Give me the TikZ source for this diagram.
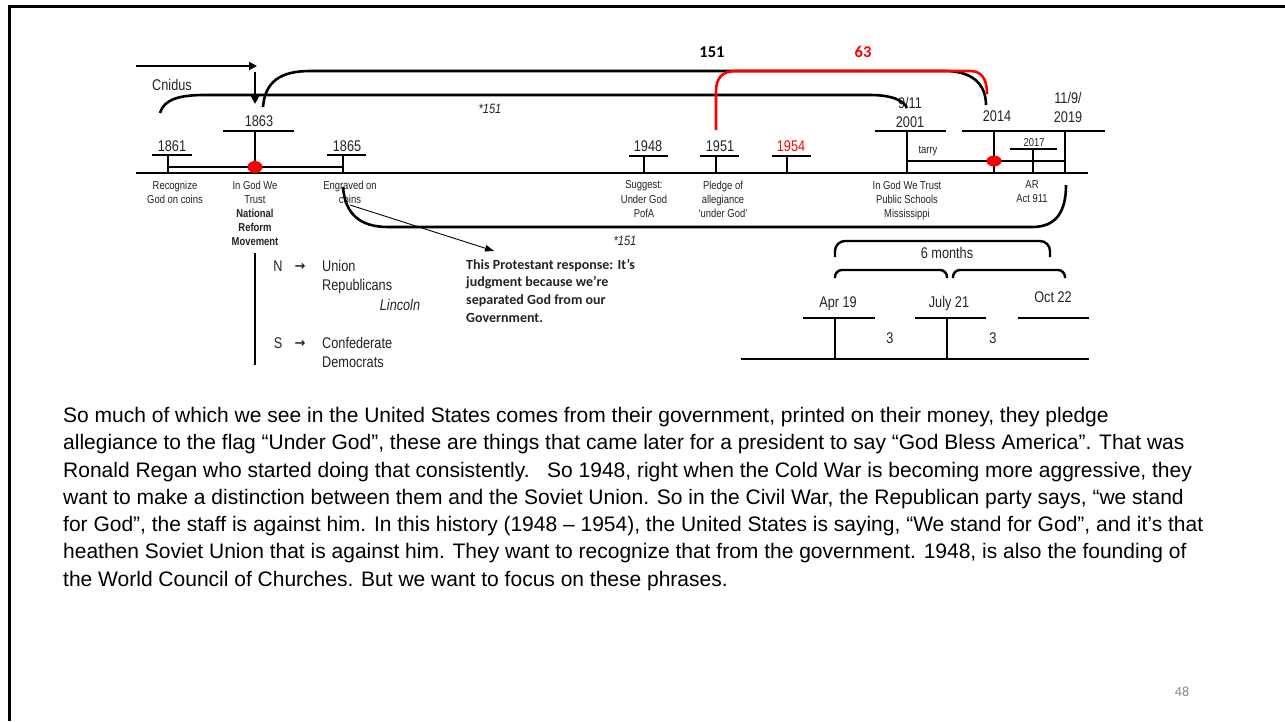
\documentclass[tikz,border=0pt]{standalone}
\usepackage{fontspec}
\setmainfont{Liberation Sans}[FakeStretch=0.82]
\newfontfamily\parafont{Liberation Sans}
\newfontfamily\calfont{Carlito}
\newfontfamily\djvfont{DejaVu Sans}
\usetikzlibrary{arrows.meta}
\definecolor{redc}{RGB}{255,0,0}
\definecolor{txt}{RGB}{35,35,35}
\definecolor{pgnum}{RGB}{137,137,137}
\newcommand{\fyr}{\fontsize{15.5}{17}\selectfont}
\newcommand{\fsm}{\fontsize{11.5}{14.2}\selectfont}
\newcommand{\fmid}{\fontsize{15.5}{19}\selectfont}
\newcommand{\fpara}{\parafont\fontsize{21}{27.3}\selectfont}
\newcommand{\yeartick}[5]{%
  \coordinate (#1top) at (#2,#3);
  \coordinate (#1bot) at (#2,173);
  \coordinate (#1l) at (#2-#4,#3);
  \coordinate (#1r) at (#2+#5,#3);
  \draw[tl] (#1top) -- (#1bot);
  \draw[tl] (#1l) -- (#1r);}
\tikzset{
  tl/.style={line width=2.6pt},
  curv/.style={line width=2.6pt},
  redcurv/.style={line width=2.6pt, draw=redc},
  thinarrow/.style={line width=0.9pt,-{Triangle[length=9pt,width=6.5pt]}},
  thickarrow/.style={line width=2.6pt,-{Triangle[length=8pt,width=8pt]}},
  yr/.style={font=\fyr, text=txt, inner sep=0pt, text height=11pt, text depth=0pt},
  smyr/.style={font=\fsm, text=txt, inner sep=0pt, text height=8.3pt, text depth=0pt},
  sm/.style={font=\fsm, text=txt, inner sep=0pt, align=center, anchor=north},
  mid/.style={font=\fmid, text=txt, inner sep=0pt, text height=11pt, text depth=0pt},
  boldc/.style={font=\calfont\bfseries\fontsize{16.5}{18}\selectfont, inner sep=0pt},
  protc/.style={font=\calfont\bfseries\fontsize{14}{17.6}\selectfont, inner sep=0pt, align=left, anchor=north west, text=txt},
  arrowch/.style={font=\djvfont\bfseries\fontsize{13}{14}\selectfont, text=txt, inner sep=0pt},
  para/.style={font=\fpara, text=black, inner sep=0pt, align=left, anchor=north west},
  reddot/.style={fill=redc, draw=none}
}
\begin{document}
\begin{tikzpicture}[x=1pt,y=-1pt]
\useasboundingbox (0,0) rectangle (1285,721);
% frame
\coordinate (frBL) at (9.5,721);
\coordinate (frTL) at (9.5,6);
\coordinate (frTR) at (1285,6);
\draw[line width=3pt] (frBL) -- (frTL) -- (frTR);

% main timeline
\coordinate (mainL) at (136,173);
\coordinate (mainR) at (1088,173);
\draw[tl] (mainL) -- (mainR);

% ticks
\yeartick{y1861}{168}{155}{16}{24}
\yeartick{y1863}{255}{131}{32}{39}
\yeartick{y1865}{343}{155}{16}{23}
\yeartick{y1948}{644}{156}{15}{24}
\yeartick{y1951}{716}{156}{16}{23}
\yeartick{y1954}{787}{156}{15}{24}
\yeartick{y2001}{907}{131}{32}{39}
\yeartick{y2017}{1033}{149}{23}{24}
\coordinate (y2014top) at (994,131);
\coordinate (y2014bot) at (994,173);
\coordinate (y2019top) at (1065,131);
\coordinate (y2019bot) at (1065,173);
\coordinate (barRL) at (962,131);
\coordinate (barRR) at (1105,131);
\draw[tl] (barRL) -- (barRR);
\draw[tl] (y2014top) -- (y2014bot);
\draw[tl] (y2019top) -- (y2019bot);

% inner lines and red dots
\coordinate (in1a) at (168,167);
\coordinate (in1b) at (343,167);
\draw[tl] (in1a) -- (in1b);
\coordinate (in2a) at (907,161);
\coordinate (in2b) at (1065,161);
\draw[tl] (in2a) -- (in2b);
\fill[reddot] (255,167) ellipse [x radius=7.5pt, y radius=6pt];
\fill[reddot] (994,161) ellipse [x radius=7.5pt, y radius=5.5pt];

% year labels
\node[yr] (l1861) at (172,146) {1861};
\node[yr] (l1863) at (259,121) {1863};
\node[yr] (l1865) at (347,146) {1865};
\node[yr] (l1948) at (648,146) {1948};
\node[yr] (l1951) at (720,146) {1951};
\node[yr, text=redc] (l1954) at (791,146) {1954};
\node[yr] (l911) at (910,103) {9/11};
\node[yr] (l2001) at (910,122) {2001};
\node[yr] (l2014) at (997,116) {2014};
\node[yr] (l119) at (1068,98) {11/9/};
\node[yr] (l2019) at (1068,117) {2019};
\node[smyr] (l2017) at (1034,142) {2017};
\node[smyr] (ltarry) at (928,149) {tarry};

% labels below timeline
\node[sm] (d1861) at (175,180.6) {Recognize\\God on coins};
\node[sm] (d1863) at (255,180.6) {In God We\\Trust\\\textbf{National}\\\textbf{Reform}\\\textbf{Movement}};
\node[sm] (d1865) at (350,180.6) {Engraved on\\coins};
\node[sm] (d1948) at (644,180.6) {Suggest:\\Under God\\PofA};
\node[sm] (d1951) at (723,180.6) {Pledge of\\allegiance\\‘under God’};
\node[sm] (d2001) at (907,180.6) {In God We Trust\\Public Schools\\Mississippi};
\node[sm] (d2017) at (1032,180.6) {AR\\Act 911};

% top arrows and Cnidus
\coordinate (arA) at (136,66);
\coordinate (arB) at (257,66);
\draw[thickarrow] (arA) -- (arB);
\coordinate (arC) at (255,72);
\coordinate (arD) at (255,104);
\draw[thickarrow] (arC) -- (arD);
\node[mid] (cnidus) at (172,85) {Cnidus};

% top arcs
\coordinate (c1s) at (160,113);
\coordinate (c1e) at (907,108);
\draw[curv] (c1s) .. controls (164,99) and (180,95) .. (205,95) -- (870,95) .. controls (893,95) and (904,101) .. (c1e);
\coordinate (c2s) at (263,107);
\coordinate (c2e) at (986,105);
\draw[curv] (c2s) .. controls (265,82) and (280,71) .. (310,71) -- (945,71) .. controls (972,71) and (986,84) .. (c2e);
\coordinate (c3s) at (716,130);
\coordinate (c3e) at (987,94);
\draw[redcurv] (c3s) -- (716,92) .. controls (716,78) and (722,71) .. (736,71) -- (970,71) .. controls (981,71) and (987,78) .. (c3e);
\node[boldc] (n151) at (712,52) {151};
\node[boldc, text=redc] (n63) at (863,52) {63};
\node[mid, font=\fontsize{13.5}{15}\selectfont\itshape] (s151a) at (490,108) {*151};
\node[mid, font=\fontsize{13.5}{15}\selectfont\itshape] (s151b) at (625,240) {*151};

% bottom arc
\coordinate (c4s) at (343,187);
\coordinate (c4e) at (1066,185);
\draw[curv] (c4s) .. controls (345,214) and (360,227) .. (388,227) -- (1032,227) .. controls (1056,227) and (1066,212) .. (c4e);

% thin arrow
\coordinate (ta) at (350,205);
\coordinate (tb) at (494,251);
\draw[thinarrow] (ta) -- (tb);

% North / South
\coordinate (nsTop) at (255,253);
\coordinate (nsBot) at (255,365);
\draw[tl] (nsTop) -- (nsBot);
\node[mid] (nN) at (278,266) {N};
\node[arrowch] (nArr) at (300,266.5) {→};
\node[mid, anchor=west] (nUnion) at (322,266) {Union};
\node[mid, anchor=west] (nRep) at (322,285) {Republicans};
\node[mid, font=\fmid\itshape] (nLinc) at (400,305) {Lincoln};
\node[mid] (nS) at (278,343) {S};
\node[arrowch] (sArr) at (300,343.5) {→};
\node[mid, anchor=west] (sConf) at (322,343) {Confederate};
\node[mid, anchor=west] (sDem) at (322,362) {Democrats};

\node[protc] (prot) at (466,259) {This Protestant response: It’s\\judgment because we’re\\separated God from our\\Government.};

% lower right timeline
\coordinate (bigL) at (835,257);
\coordinate (bigR) at (1050,257);
\draw[line width=2.4pt, rounded corners=10pt] (bigL) -- ++(0,-16) -| (bigR);
\node[mid] (six) at (947,253) {6 months};
\coordinate (smLa) at (835,278);
\coordinate (smLb) at (947,278);
\draw[line width=2.4pt, rounded corners=7pt] (smLa) -- ++(0,-8) -| (smLb);
\coordinate (smRa) at (953,278);
\coordinate (smRb) at (1065,278);
\draw[line width=2.4pt, rounded corners=7pt] (smRa) -- ++(0,-8) -| (smRb);
\node[mid] (apr) at (838,302) {Apr 19};
\node[mid] (jul) at (949,302) {July 21};
\node[mid] (oct) at (1053,297) {Oct 22};
\coordinate (lbL) at (741,359);
\coordinate (lbR) at (1089,359);
\draw[tl] (lbL) -- (lbR);
\coordinate (aprT) at (835,318);
\coordinate (aprB) at (835,359);
\draw[tl] (aprT) -- (aprB);
\draw[tl] (803,318) -- (875,318);
\coordinate (julT) at (947,318);
\coordinate (julB) at (947,359);
\draw[tl] (julT) -- (julB);
\draw[tl] (915,318) -- (986,318);
\draw[tl] (1018,318) -- (1089,318);
\node[mid] (three1) at (890,338) {3};
\node[mid] (three2) at (993,338) {3};

% paragraph
\node[para] (para) at (63,407) {So much of which we see in the United States comes from their government, printed on their money, they pledge\\
allegiance to the flag “Under God”, these are things that came later for a president to say “God Bless America”. That was\\
Ronald Regan who started doing that consistently.\ \ \ So 1948, right when the Cold War is becoming more aggressive, they\\
want to make a distinction between them and the Soviet Union. So in the Civil War, the Republican party says, “we stand\\
for God”, the staff is against him. In this history (1948 – 1954), the United States is saying, “We stand for God”, and it’s that\\
heathen Soviet Union that is against him. They want to recognize that from the government. 1948, is also the founding of\\
the World Council of Churches. But we want to focus on these phrases.};

\node[font=\calfont\fontsize{14}{16}\selectfont, text=pgnum, inner sep=0pt] (pg) at (1182,692) {48};
\end{tikzpicture}
\end{document}
